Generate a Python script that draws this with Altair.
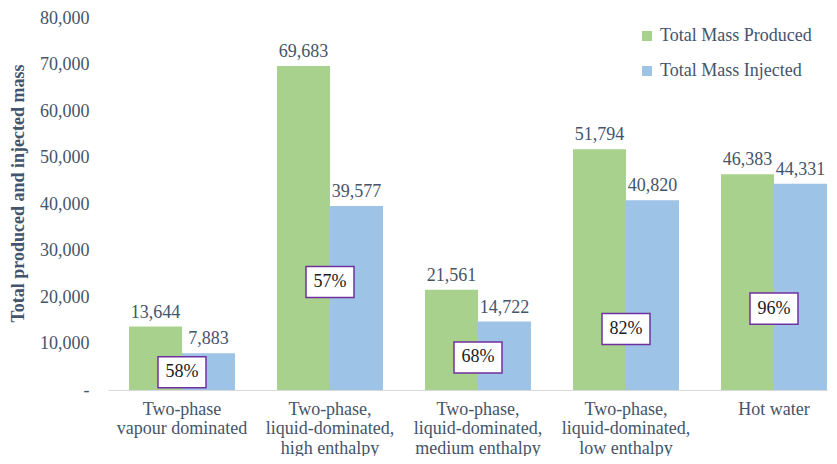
import altair as alt
import pandas as pd

categories = [
    "Two-phase\nvapour dominated",
    "Two-phase,\nliquid-dominated,\nhigh enthalpy",
    "Two-phase,\nliquid-dominated,\nmedium enthalpy",
    "Two-phase,\nliquid-dominated,\nlow enthalpy",
    "Hot water",
]
series = ["Total Mass Produced", "Total Mass Injected"]
produced = [13644, 69683, 21561, 51794, 46383]
injected = [7883, 39577, 14722, 40820, 44331]
ratio_labels = ["58%", "57%", "68%", "82%", "96%"]
ratio_label_at = [3800, 23200, 7000, 13100, 17500]
y_ticks = [0, 10000, 20000, 30000, 40000, 50000, 60000, 70000, 80000]

GREEN = "#a9d18e"
BLUE = "#9dc3e6"
TEXT = "#44546a"
SERIF = "'Liberation Serif', 'Times New Roman', Times, 'DejaVu Serif', serif"

rows = []
for c, p, i in zip(categories, produced, injected):
    rows.append({"category": c, "series": series[0], "value": p})
    rows.append({"category": c, "series": series[1], "value": i})
df = pd.DataFrame(rows)
ratios = pd.DataFrame({"category": categories, "label": ratio_labels, "at": ratio_label_at})

x_scale = alt.Scale(domain=categories, range=[0, 740], paddingInner=0.284, paddingOuter=0.142)
y_scale = alt.Scale(domain=[0, 80000])

x_enc = alt.X(
    "category:N",
    sort=categories,
    scale=x_scale,
    axis=alt.Axis(
        title=None,
        labelExpr="split(datum.label, '\\n')",
        labelAngle=0,
        labelFont=SERIF,
        labelFontSize=18,
        labelColor=TEXT,
        labelLineHeight=19.5,
        labelPadding=10,
        ticks=False,
        grid=False,
        domainColor="#d9d9d9",
        domainWidth=1,
    ),
)
y_enc = alt.Y(
    "value:Q",
    scale=y_scale,
    axis=alt.Axis(
        values=y_ticks,
        labelExpr="datum.value == 0 ? '-\u00a0\u00a0' : format(datum.value, ',')",
        domain=False,
        ticks=False,
        grid=False,
        labelPadding=19,
        labelFont=SERIF,
        labelFontSize=18,
        labelColor=TEXT,
        title="Total produced and injected mass",
        titleFont=SERIF,
        titleFontSize=18,
        titleFontWeight="bold",
        titleColor=TEXT,
        titleX=-81,
        titleY=175,
    ),
)
xoff = alt.XOffset("series:N", sort=series, scale=alt.Scale(domain=series, paddingInner=0, paddingOuter=0))
color = alt.Color(
    "series:N",
    sort=series,
    scale=alt.Scale(domain=series, range=[GREEN, BLUE]),
    legend=alt.Legend(
        orient="none",
        legendX=530,
        legendY=9,
        title=None,
        symbolType="square",
        symbolSize=100,
        symbolStrokeWidth=0,
        labelFont=SERIF,
        labelFontSize=18,
        labelColor=TEXT,
        rowPadding=17,
        labelOffset=4,
    ),
)

bars = alt.Chart(df).mark_bar().encode(x=x_enc, xOffset=xoff, y=y_enc, color=color)
values = alt.Chart(df).mark_text(
    dy=-9, baseline="alphabetic", font=SERIF, fontSize=18, color=TEXT
).encode(x=x_enc, xOffset=xoff, y=y_enc, text=alt.Text("value:Q", format=","))

box_path = "M-1,-0.646H1V0.646H-1Z"
boxes = alt.Chart(ratios).mark_point(
    shape=box_path, size=2304, filled=True, fill="white", stroke="#7030a0", strokeWidth=1.5, opacity=1
).encode(x=alt.X("category:N", sort=categories, scale=x_scale), y=alt.Y("at:Q", scale=y_scale))
box_text = alt.Chart(ratios).mark_text(
    baseline="middle", font=SERIF, fontSize=18, color="#1a1a1a"
).encode(x=alt.X("category:N", sort=categories, scale=x_scale), y=alt.Y("at:Q", scale=y_scale), text="label:N")

chart = (
    alt.layer(bars, values, boxes, box_text)
    .properties(
        width=720,
        height=372,
        autosize=alt.AutoSizeParams(type="none"),
        padding={"left": 100, "top": 10, "right": 0, "bottom": 66},
    )
    .configure_view(stroke=None)
)

chart.save("out.html", embed_options={"renderer": "svg", "actions": False})
